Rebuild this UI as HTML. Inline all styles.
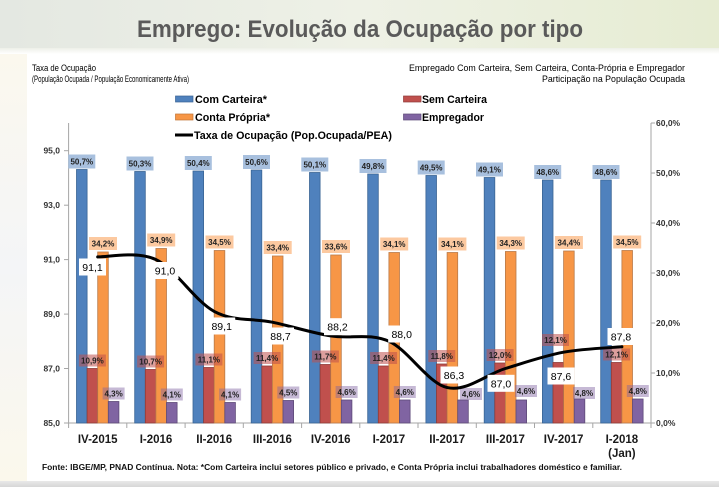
<!DOCTYPE html>
<html><head><meta charset="utf-8"><style>
html,body{margin:0;padding:0;background:#fff;}
svg{display:block;}
text{font-family:"Liberation Sans",sans-serif;}
.bl{font-size:8px;font-weight:bold;fill:#222;text-anchor:middle;}
.ll{font-size:10.5px;fill:#000;text-anchor:middle;}
.ax{font-size:8.5px;font-weight:bold;fill:#333;}
.cat{font-size:11.5px;font-weight:bold;fill:#1a1a1a;text-anchor:middle;}
.lg{font-size:11px;font-weight:bold;fill:#000;}
.hd{font-size:9px;fill:#000;}
</style></head><body>
<svg width="719" height="487" viewBox="0 0 719 487" xmlns="http://www.w3.org/2000/svg">
<defs>
<linearGradient id="hb" x1="0" y1="0" x2="1" y2="0">
<stop offset="0" stop-color="#e4e8e2"/><stop offset="0.5" stop-color="#eef1e6"/><stop offset="1" stop-color="#e6ecd2"/>
</linearGradient>
<linearGradient id="hf" x1="0" y1="0" x2="0" y2="1">
<stop offset="0" stop-color="#eef0e8"/><stop offset="1" stop-color="#ffffff"/>
</linearGradient>
<linearGradient id="bb" x1="0" y1="0" x2="0" y2="1">
<stop offset="0" stop-color="#e8e8e8"/><stop offset="1" stop-color="#d6d6d6"/>
</linearGradient>
<linearGradient id="ls" x1="0" y1="0" x2="0" y2="1">
<stop offset="0" stop-color="#fbf8ee"/><stop offset="0.5" stop-color="#f4f5f7"/><stop offset="1" stop-color="#fbf8ec"/>
</linearGradient>
</defs>
<rect x="0" y="0" width="719" height="487" fill="#fff"/>
<rect x="0" y="0" width="719" height="48" fill="url(#hb)"/>
<rect x="0" y="48" width="719" height="6" fill="url(#hf)"/>
<rect x="0" y="54" width="27" height="427" fill="url(#ls)"/>
<rect x="0" y="481" width="719" height="6" fill="url(#bb)"/>

<text x="137" y="37" font-size="24" font-weight="bold" fill="#5a5a5a" textLength="446" lengthAdjust="spacingAndGlyphs">Emprego: Evolução da Ocupação por tipo</text>

<text class="hd" x="32" y="71" textLength="64" lengthAdjust="spacingAndGlyphs">Taxa de Ocupação</text>
<text class="hd" x="32" y="82" textLength="157" lengthAdjust="spacingAndGlyphs">(População Ocupada / População Economicamente Ativa)</text>
<text class="hd" x="409" y="71" textLength="276" lengthAdjust="spacingAndGlyphs">Empregado Com Carteira, Sem Carteira, Conta-Própria e Empregador</text>
<text class="hd" x="542" y="82" textLength="143" lengthAdjust="spacingAndGlyphs">Participação na População Ocupada</text>

<!-- legend -->
<rect x="175.5" y="96" width="17.5" height="6" fill="#4F81BD" stroke="#3a6494" stroke-width="0.7"/>
<text class="lg" x="195" y="103" textLength="72" lengthAdjust="spacingAndGlyphs">Com Carteira*</text>
<rect x="175.5" y="114" width="17.5" height="6" fill="#F79646" stroke="#c07234" stroke-width="0.7"/>
<text class="lg" x="195" y="121" textLength="75" lengthAdjust="spacingAndGlyphs">Conta Própria*</text>
<line x1="175" y1="135" x2="193" y2="135" stroke="#000" stroke-width="3"/>
<text class="lg" x="194" y="139" textLength="198" lengthAdjust="spacingAndGlyphs">Taxa de Ocupação (Pop.Ocupada/PEA)</text>
<rect x="403.5" y="96" width="17.5" height="6" fill="#C0504D" stroke="#8e3b39" stroke-width="0.7"/>
<text class="lg" x="422" y="103" textLength="65" lengthAdjust="spacingAndGlyphs">Sem Carteira</text>
<rect x="403.5" y="114" width="17.5" height="6" fill="#8064A2" stroke="#5e4a78" stroke-width="0.7"/>
<text class="lg" x="422" y="121" textLength="62" lengthAdjust="spacingAndGlyphs">Empregador</text>

<!-- axes -->
<g stroke="#a6a6a6" stroke-width="1" fill="none">
<line x1="68.6" y1="123" x2="68.6" y2="423"/>
<line x1="651" y1="123" x2="651" y2="423"/>
<line x1="68.6" y1="423" x2="651" y2="423"/>
<line x1="64" y1="423" x2="68.6" y2="423"/><line x1="64" y1="368.5" x2="68.6" y2="368.5"/><line x1="64" y1="314.1" x2="68.6" y2="314.1"/><line x1="64" y1="259.6" x2="68.6" y2="259.6"/><line x1="64" y1="205.2" x2="68.6" y2="205.2"/><line x1="64" y1="150.7" x2="68.6" y2="150.7"/>
<line x1="651" y1="423" x2="655" y2="423"/><line x1="651" y1="373" x2="655" y2="373"/><line x1="651" y1="323" x2="655" y2="323"/><line x1="651" y1="273" x2="655" y2="273"/><line x1="651" y1="223" x2="655" y2="223"/><line x1="651" y1="173" x2="655" y2="173"/><line x1="651" y1="123" x2="655" y2="123"/>
<line x1="68.6" y1="423" x2="68.6" y2="428"/><line x1="126.8" y1="423" x2="126.8" y2="428"/><line x1="185.1" y1="423" x2="185.1" y2="428"/><line x1="243.3" y1="423" x2="243.3" y2="428"/><line x1="301.6" y1="423" x2="301.6" y2="428"/><line x1="359.8" y1="423" x2="359.8" y2="428"/><line x1="418" y1="423" x2="418" y2="428"/><line x1="476.3" y1="423" x2="476.3" y2="428"/><line x1="534.5" y1="423" x2="534.5" y2="428"/><line x1="592.8" y1="423" x2="592.8" y2="428"/><line x1="651" y1="423" x2="651" y2="428"/>
</g>
<text class="ax" x="60" y="426" text-anchor="end">85,0</text>
<text class="ax" x="60" y="371.5" text-anchor="end">87,0</text>
<text class="ax" x="60" y="317.1" text-anchor="end">89,0</text>
<text class="ax" x="60" y="262.6" text-anchor="end">91,0</text>
<text class="ax" x="60" y="208.2" text-anchor="end">93,0</text>
<text class="ax" x="60" y="153.7" text-anchor="end">95,0</text>
<text class="ax" x="656" y="426">0,0%</text>
<text class="ax" x="656" y="376">10,0%</text>
<text class="ax" x="656" y="326">20,0%</text>
<text class="ax" x="656" y="276">30,0%</text>
<text class="ax" x="656" y="226">40,0%</text>
<text class="ax" x="656" y="176">50,0%</text>
<text class="ax" x="656" y="126">60,0%</text>

<!-- bars: blue -->
<g fill="#4F81BD" stroke="#3a6494" stroke-width="0.8">
<rect x="76.5" y="169.5" width="10.6" height="253.5"/>
<rect x="134.7" y="171.5" width="10.6" height="251.5"/>
<rect x="193.0" y="171.0" width="10.6" height="252"/>
<rect x="251.2" y="170.0" width="10.6" height="253"/>
<rect x="309.5" y="172.5" width="10.6" height="250.5"/>
<rect x="367.7" y="174.0" width="10.6" height="249"/>
<rect x="425.9" y="175.5" width="10.6" height="247.5"/>
<rect x="484.2" y="177.5" width="10.6" height="245.5"/>
<rect x="542.4" y="180.0" width="10.6" height="243"/>
<rect x="600.7" y="180.0" width="10.6" height="243"/>
</g>
<!-- red -->
<g fill="#C0504D" stroke="#8e3b39" stroke-width="0.8">
<rect x="87.1" y="368.5" width="10.6" height="54.5"/>
<rect x="145.3" y="369.5" width="10.6" height="53.5"/>
<rect x="203.6" y="367.5" width="10.6" height="55.5"/>
<rect x="261.8" y="366.0" width="10.6" height="57"/>
<rect x="320.1" y="364.5" width="10.6" height="58.5"/>
<rect x="378.3" y="366.0" width="10.6" height="57"/>
<rect x="436.5" y="364.0" width="10.6" height="59"/>
<rect x="494.8" y="363.0" width="10.6" height="60"/>
<rect x="553.0" y="362.5" width="10.6" height="60.5"/>
<rect x="611.3" y="362.5" width="10.6" height="60.5"/>
</g>
<!-- orange -->
<g fill="#F79646" stroke="#b87a4a" stroke-width="0.8">
<rect x="97.7" y="252.0" width="10.6" height="171"/>
<rect x="155.9" y="248.5" width="10.6" height="174.5"/>
<rect x="214.2" y="250.5" width="10.6" height="172.5"/>
<rect x="272.4" y="256.0" width="10.6" height="167"/>
<rect x="330.7" y="255.0" width="10.6" height="168"/>
<rect x="388.9" y="252.5" width="10.6" height="170.5"/>
<rect x="447.1" y="252.5" width="10.6" height="170.5"/>
<rect x="505.4" y="251.5" width="10.6" height="171.5"/>
<rect x="563.6" y="251.0" width="10.6" height="172"/>
<rect x="621.9" y="250.5" width="10.6" height="172.5"/>
</g>
<!-- purple -->
<g fill="#8064A2" stroke="#5e4a78" stroke-width="0.8">
<rect x="108.3" y="401.5" width="10.6" height="21.5"/>
<rect x="166.5" y="402.5" width="10.6" height="20.5"/>
<rect x="224.8" y="402.5" width="10.6" height="20.5"/>
<rect x="283.0" y="400.5" width="10.6" height="22.5"/>
<rect x="341.3" y="400.0" width="10.6" height="23"/>
<rect x="399.5" y="400.0" width="10.6" height="23"/>
<rect x="457.7" y="400.0" width="10.6" height="23"/>
<rect x="516.0" y="400.0" width="10.6" height="23"/>
<rect x="574.2" y="399.0" width="10.6" height="24"/>
<rect x="632.5" y="399.0" width="10.6" height="24"/>
</g>

<!-- blue labels -->
<g fill="#a8c0de">
<rect x="68.3" y="154.5" width="27" height="14"/>
<rect x="126.5" y="156.5" width="27" height="14"/>
<rect x="184.8" y="156.0" width="27" height="14"/>
<rect x="243.0" y="155.0" width="27" height="14"/>
<rect x="301.3" y="157.5" width="27" height="14"/>
<rect x="359.5" y="159.0" width="27" height="14"/>
<rect x="417.7" y="160.5" width="27" height="14"/>
<rect x="476.0" y="162.5" width="27" height="14"/>
<rect x="534.2" y="165.0" width="27" height="14"/>
<rect x="592.5" y="165.0" width="27" height="14"/>
</g>
<text class="bl" x="81.8" y="164.5">50,7%</text>
<text class="bl" x="140.0" y="166.5">50,3%</text>
<text class="bl" x="198.3" y="166.0">50,4%</text>
<text class="bl" x="256.5" y="165.0">50,6%</text>
<text class="bl" x="314.8" y="167.5">50,1%</text>
<text class="bl" x="373.0" y="169.0">49,8%</text>
<text class="bl" x="431.2" y="170.5">49,5%</text>
<text class="bl" x="489.5" y="172.5">49,1%</text>
<text class="bl" x="547.7" y="175.0">48,6%</text>
<text class="bl" x="606.0" y="175.0">48,6%</text>

<!-- orange labels -->
<g fill="#fcc9a0">
<rect x="89.0" y="237.0" width="28" height="13"/>
<rect x="147.2" y="233.5" width="28" height="13"/>
<rect x="205.5" y="235.5" width="28" height="13"/>
<rect x="263.7" y="241.0" width="28" height="13"/>
<rect x="322.0" y="240.0" width="28" height="13"/>
<rect x="380.2" y="237.5" width="28" height="13"/>
<rect x="438.4" y="237.5" width="28" height="13"/>
<rect x="496.7" y="236.5" width="28" height="13"/>
<rect x="554.9" y="236.0" width="28" height="13"/>
<rect x="613.2" y="235.5" width="28" height="13"/>
</g>
<text class="bl" x="103.0" y="246.5">34,2%</text>
<text class="bl" x="161.2" y="243.0">34,9%</text>
<text class="bl" x="219.5" y="245.0">34,5%</text>
<text class="bl" x="277.7" y="250.5">33,4%</text>
<text class="bl" x="336.0" y="249.5">33,6%</text>
<text class="bl" x="394.2" y="247.0">34,1%</text>
<text class="bl" x="452.4" y="247.0">34,1%</text>
<text class="bl" x="510.7" y="246.0">34,3%</text>
<text class="bl" x="568.9" y="245.5">34,4%</text>
<text class="bl" x="627.2" y="245.0">34,5%</text>

<!-- red labels -->
<g fill="rgba(192,80,77,0.55)">
<rect x="78.9" y="354.5" width="27" height="12"/>
<rect x="137.1" y="355.5" width="27" height="12"/>
<rect x="195.4" y="353.5" width="27" height="12"/>
<rect x="253.6" y="352.0" width="27" height="12"/>
<rect x="311.9" y="350.5" width="27" height="12"/>
<rect x="370.1" y="352.0" width="27" height="12"/>
<rect x="428.3" y="350.0" width="27" height="12"/>
<rect x="486.6" y="349.0" width="27" height="12"/>
<rect x="542.0" y="334.0" width="27" height="12"/>
<rect x="603.1" y="348.5" width="27" height="12"/>
</g>
<text class="bl" x="92.4" y="363.5">10,9%</text>
<text class="bl" x="150.6" y="364.5">10,7%</text>
<text class="bl" x="208.9" y="362.5">11,1%</text>
<text class="bl" x="267.1" y="361.0">11,4%</text>
<text class="bl" x="325.4" y="359.5">11,7%</text>
<text class="bl" x="383.6" y="361.0">11,4%</text>
<text class="bl" x="441.8" y="359.0">11,8%</text>
<text class="bl" x="500.1" y="358.0">12,0%</text>
<text class="bl" x="555.5" y="343.0">12,1%</text>
<text class="bl" x="616.6" y="357.5">12,1%</text>

<!-- purple labels -->
<g fill="rgba(128,100,162,0.45)">
<rect x="102.6" y="387.5" width="22" height="12"/>
<rect x="160.8" y="388.5" width="22" height="12"/>
<rect x="219.1" y="388.5" width="22" height="12"/>
<rect x="277.3" y="386.5" width="22" height="12"/>
<rect x="335.6" y="386.0" width="22" height="12"/>
<rect x="393.8" y="386.0" width="22" height="12"/>
<rect x="460.0" y="388.0" width="22" height="12"/>
<rect x="515.0" y="385.0" width="22" height="12"/>
<rect x="573.0" y="387.0" width="22" height="12"/>
<rect x="626.8" y="385.0" width="22" height="12"/>
</g>
<text class="bl" x="113.6" y="396.5">4,3%</text>
<text class="bl" x="171.8" y="397.5">4,1%</text>
<text class="bl" x="230.1" y="397.5">4,1%</text>
<text class="bl" x="288.3" y="395.5">4,5%</text>
<text class="bl" x="346.6" y="395.0">4,6%</text>
<text class="bl" x="404.8" y="395.0">4,6%</text>
<text class="bl" x="471.0" y="397.0">4,6%</text>
<text class="bl" x="526.0" y="394.0">4,6%</text>
<text class="bl" x="584.0" y="396.0">4,8%</text>
<text class="bl" x="637.8" y="394.0">4,8%</text>

<!-- line -->
<path d="M97.7,256.9 C107.4,257.35 136.6,250.5 156.0,259.6 C175.4,268.7 194.8,301.0 214.2,311.4 C233.6,321.8 253.0,318.1 272.4,322.2 C291.8,326.3 311.3,332.7 330.7,335.9 C350.1,339.1 369.5,332.7 388.9,341.3 C408.3,349.9 427.8,383.1 447.2,387.6 C466.6,392.1 486.0,374.4 505.4,368.5 C524.8,362.6 544.2,355.8 563.6,352.2 C583.0,348.6 612.2,347.7 621.9,346.8" fill="none" stroke="#000" stroke-width="3" stroke-linecap="round"/>

<!-- line labels -->
<g fill="#fff">
<rect x="79" y="258.5" width="27" height="17"/>
<rect x="151.5" y="262" width="27" height="17"/>
<rect x="208.2" y="317.5" width="27" height="17"/>
<rect x="267" y="327.5" width="27" height="17"/>
<rect x="324" y="318.2" width="27" height="17"/>
<rect x="388.2" y="325.5" width="27" height="17"/>
<rect x="440.5" y="366.5" width="27" height="17"/>
<rect x="487.5" y="374.8" width="27" height="17"/>
<rect x="547.5" y="367.5" width="27" height="17"/>
<rect x="607.5" y="328" width="27" height="17"/>
</g>
<text class="ll" x="92.5" y="271">91,1</text>
<text class="ll" x="165" y="274.5">91,0</text>
<text class="ll" x="221.7" y="330">89,1</text>
<text class="ll" x="280.5" y="340">88,7</text>
<text class="ll" x="337.5" y="330.7">88,2</text>
<text class="ll" x="401.7" y="338">88,0</text>
<text class="ll" x="454" y="379">86,3</text>
<text class="ll" x="501" y="387.3">87,0</text>
<text class="ll" x="561" y="380">87,6</text>
<text class="ll" x="621" y="340.5">87,8</text>

<!-- categories -->
<text class="cat" x="97.7" y="443">IV-2015</text>
<text class="cat" x="156.0" y="443">I-2016</text>
<text class="cat" x="214.2" y="443">II-2016</text>
<text class="cat" x="272.4" y="443">III-2016</text>
<text class="cat" x="330.7" y="443">IV-2016</text>
<text class="cat" x="388.9" y="443">I-2017</text>
<text class="cat" x="447.2" y="443">II-2017</text>
<text class="cat" x="505.4" y="443">III-2017</text>
<text class="cat" x="563.6" y="443">IV-2017</text>
<text class="cat" x="621.9" y="443">I-2018</text>
<text class="cat" x="621.9" y="457">(Jan)</text>

<text x="42" y="470" font-size="8" font-weight="bold" fill="#111" textLength="580" lengthAdjust="spacingAndGlyphs">Fonte: IBGE/MP, PNAD Contínua. Nota:  *Com Carteira inclui setores público e privado, e Conta Própria inclui trabalhadores doméstico e familiar.</text>
</svg>
</body></html>
